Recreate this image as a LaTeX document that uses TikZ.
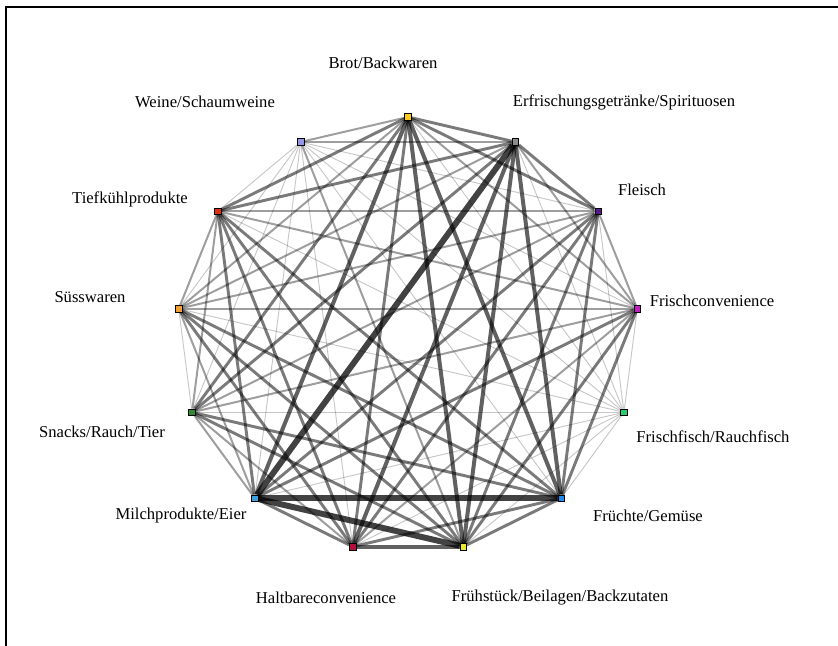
\documentclass[tikz,border=0pt]{standalone}
\usepackage{fontspec}
\setmainfont{Liberation Serif}
\usepackage{tikz}
\usetikzlibrary{positioning}
\usetikzlibrary{backgrounds}
\definecolor{cbrot}{HTML}{F7C81E}
\definecolor{cerfr}{HTML}{8C8C8C}
\definecolor{cfleisch}{HTML}{5A168C}
\definecolor{cfrconv}{HTML}{C21EC2}
\definecolor{cfrfisch}{HTML}{2ECC71}
\definecolor{cfruechte}{HTML}{1E8CF0}
\definecolor{cfruehst}{HTML}{E8E830}
\definecolor{chaltbar}{HTML}{B0103C}
\definecolor{cmilch}{HTML}{3CA0DC}
\definecolor{csnacks}{HTML}{2E8C2E}
\definecolor{csuess}{HTML}{F5A032}
\definecolor{ctiefk}{HTML}{E0300F}
\definecolor{cweine}{HTML}{9696E6}
\tikzstyle{categ}=[rectangle,draw=black,line width=0.4pt,minimum size=5pt,inner sep=0pt]
\tikzstyle{etiq}=[text=black,inner sep=0pt,font=\fontsize{12.5}{14}\selectfont]
\tikzstyle{lienA}=[black,opacity=0.22,line width=0.7pt]
\tikzstyle{lienB}=[black,opacity=0.38,line width=1.5pt]
\tikzstyle{lienC}=[black,opacity=0.52,line width=2.2pt]
\tikzstyle{lienD}=[black,opacity=0.62,line width=3pt]
\tikzstyle{lienE}=[black,opacity=0.74,line width=4.5pt]

\begin{document}
\begin{tikzpicture}
\clip (-10.796,8.864) rectangle (11.378,-8.229);
\useasboundingbox (-10.796,8.864) rectangle (11.378,-8.229);
\draw[line width=1.1pt] (-10.637,-9) -- (-10.637,8.679) -- (12,8.679);
%Categories
\node[categ,fill=cbrot] (brot) at (0,5.768) {};
\node[categ,fill=cerfr] (erfr) at (2.840,5.107) {};
\node[categ,fill=cfleisch] (fleisch) at (5.030,3.275) {};
\node[categ,fill=cfrconv] (frconv) at (6.067,0.695) {};
\node[categ,fill=cfrfisch] (frfisch) at (5.715,-2.045) {};
\node[categ,fill=cfruechte] (fruechte) at (4.053,-4.318) {};
\node[categ,fill=cfruehst] (fruehst) at (1.463,-5.600) {};
\node[categ,fill=chaltbar] (haltbar) at (-1.463,-5.600) {};
\node[categ,fill=cmilch] (milch) at (-4.053,-4.318) {};
\node[categ,fill=csnacks] (snacks) at (-5.715,-2.045) {};
\node[categ,fill=csuess] (suess) at (-6.067,0.695) {};
\node[categ,fill=ctiefk] (tiefk) at (-5.030,3.275) {};
\node[categ,fill=cweine] (weine) at (-2.840,5.107) {};
%Labels
\node[etiq] (lbrot) at (-0.661,7.197) {Brot/Backwaren};
\node[etiq] (lerfr) at (5.715,6.165) {Erfrischungsgetränke/Spirituosen};
\node[etiq] (lfleisch) at (6.192,3.837) {Fleisch};
\node[etiq] (lfrconv) at (8.044,0.900) {Frischconvenience};
\node[etiq] (lfrfisch) at (8.070,-2.699) {Frischfisch/Rauchfisch};
\node[etiq] (lfruechte) at (6.350,-4.789) {Früchte/Gemüse};
\node[etiq] (lfruehst) at (4.022,-6.959) {Frühstück/Beilagen/Backzutaten};
\node[etiq] (lhaltbar) at (-2.170,-6.959) {Haltbareconvenience};
\node[etiq] (lmilch) at (-6.006,-4.789) {Milchprodukte/Eier};
\node[etiq] (lsnacks) at (-8.097,-2.566) {Snacks/Rauch/Tier};
\node[etiq] (lsuess) at (-8.414,1.005) {Süsswaren};
\node[etiq] (ltiefk) at (-7.356,3.599) {Tiefkühlprodukte};
\node[etiq] (lweine) at (-5.371,6.165) {Weine/Schaumweine};
%Drawing Edges
\begin{scope}[on background layer]
\draw[lienC] (brot) -- (erfr); \draw[lienC] (brot) -- (fleisch); \draw[lienB] (brot) -- (frconv);
\draw[lienA] (brot) -- (frfisch); \draw[lienD] (brot) -- (fruechte); \draw[lienD] (brot) -- (fruehst);
\draw[lienC] (brot) -- (haltbar); \draw[lienD] (brot) -- (milch); \draw[lienC] (brot) -- (snacks);
\draw[lienB] (brot) -- (suess); \draw[lienC] (brot) -- (tiefk); \draw[lienB] (brot) -- (weine);
\draw[lienC] (erfr) -- (fleisch); \draw[lienB] (erfr) -- (frconv); \draw[lienA] (erfr) -- (frfisch);
\draw[lienD] (erfr) -- (fruechte); \draw[lienD] (erfr) -- (fruehst); \draw[lienD] (erfr) -- (haltbar);
\draw[lienE] (erfr) -- (milch); \draw[lienC] (erfr) -- (snacks); \draw[lienB] (erfr) -- (suess);
\draw[lienC] (erfr) -- (tiefk); \draw[lienB] (erfr) -- (weine);
\draw[lienB] (fleisch) -- (frconv); \draw[lienA] (fleisch) -- (frfisch); \draw[lienC] (fleisch) -- (fruechte);
\draw[lienC] (fleisch) -- (fruehst); \draw[lienC] (fleisch) -- (haltbar); \draw[lienC] (fleisch) -- (milch);
\draw[lienB] (fleisch) -- (snacks); \draw[lienB] (fleisch) -- (suess); \draw[lienB] (fleisch) -- (tiefk);
\draw[lienA] (fleisch) -- (weine);
\draw[lienA] (frconv) -- (frfisch); \draw[lienC] (frconv) -- (fruechte); \draw[lienC] (frconv) -- (fruehst);
\draw[lienB] (frconv) -- (haltbar); \draw[lienC] (frconv) -- (milch); \draw[lienB] (frconv) -- (snacks);
\draw[lienB] (frconv) -- (suess); \draw[lienB] (frconv) -- (tiefk); \draw[lienA] (frconv) -- (weine);
\draw[lienA] (frfisch) -- (fruechte); \draw[lienA] (frfisch) -- (fruehst); \draw[lienA] (frfisch) -- (haltbar);
\draw[lienA] (frfisch) -- (milch); \draw[lienA] (frfisch) -- (snacks); \draw[lienA] (frfisch) -- (suess);
\draw[lienA] (frfisch) -- (tiefk); \draw[lienA] (frfisch) -- (weine);
\draw[lienC] (fruechte) -- (fruehst); \draw[lienC] (fruechte) -- (haltbar); \draw[lienE] (fruechte) -- (milch);
\draw[lienC] (fruechte) -- (snacks); \draw[lienC] (fruechte) -- (suess); \draw[lienC] (fruechte) -- (tiefk);
\draw[lienA] (fruechte) -- (weine);
\draw[lienD] (fruehst) -- (haltbar); \draw[lienE] (fruehst) -- (milch); \draw[lienC] (fruehst) -- (snacks);
\draw[lienC] (fruehst) -- (suess); \draw[lienC] (fruehst) -- (tiefk); \draw[lienB] (fruehst) -- (weine);
\draw[lienC] (haltbar) -- (milch); \draw[lienB] (haltbar) -- (snacks); \draw[lienC] (haltbar) -- (suess);
\draw[lienC] (haltbar) -- (tiefk); \draw[lienA] (haltbar) -- (weine);
\draw[lienB] (milch) -- (snacks); \draw[lienB] (milch) -- (suess); \draw[lienC] (milch) -- (tiefk);
\draw[lienA] (milch) -- (weine);
\draw[lienA] (snacks) -- (suess); \draw[lienB] (snacks) -- (tiefk); \draw[lienA] (snacks) -- (weine);
\draw[lienB] (suess) -- (tiefk); \draw[lienA] (suess) -- (weine);
\draw[lienA] (tiefk) -- (weine);
\end{scope}
\end{tikzpicture}
\end{document}
